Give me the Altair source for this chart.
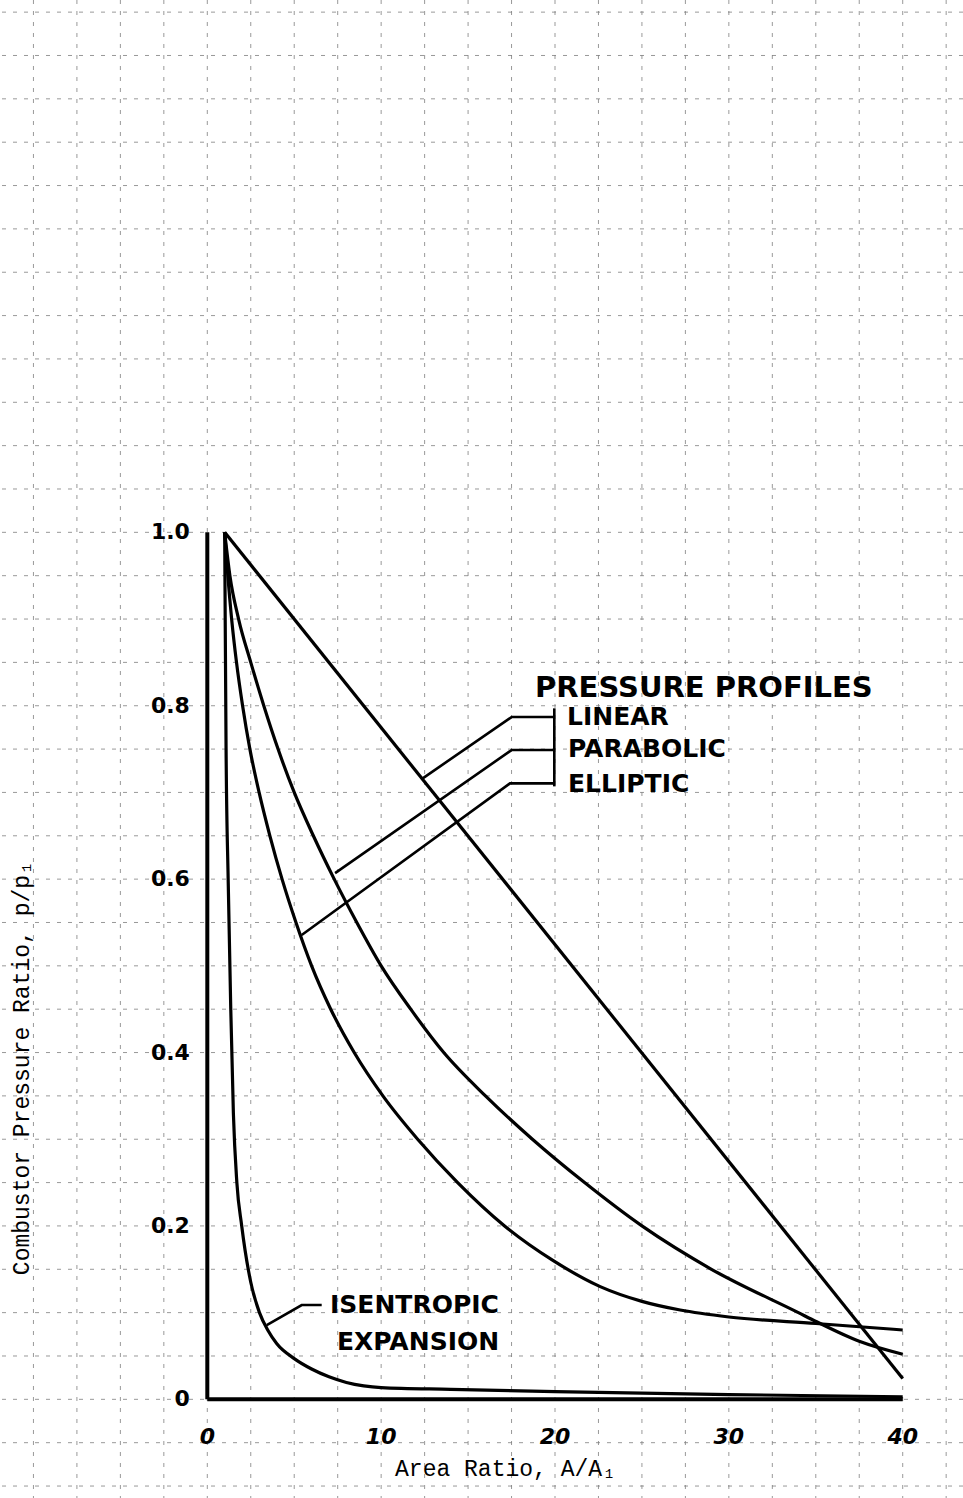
import altair as alt
import pandas as pd

# ---------------- data ----------------
linear_x = [1.0, 40.0]
linear_y = [1.0, 0.024]

parabolic_x = [1.0, 1.3, 1.8, 2.5, 3.25, 4.07, 5.0, 6.1, 7.3, 8.6, 10.0, 11.7, 13.6,
               16.0, 18.7, 21.7, 25.0, 29.0, 34.0, 35.05, 37.5, 40.0]
parabolic_y = [1.0, 0.95, 0.9, 0.85, 0.8, 0.75, 0.7, 0.65, 0.6, 0.55, 0.5, 0.45, 0.4,
               0.35, 0.3, 0.25, 0.2, 0.15, 0.1, 0.0895, 0.067, 0.052]

elliptic_x = [1.0, 1.18, 1.4, 1.68, 2.03, 2.45, 2.98, 3.6, 4.3, 5.1, 6.0, 7.1, 8.45,
              10.1, 12.1, 14.4, 17.1, 19.9, 22.6, 25.0, 27.2, 30.0, 35.0, 40.0]
elliptic_y = [1.0, 0.95, 0.9, 0.85, 0.8, 0.75, 0.7, 0.65, 0.6, 0.55, 0.5, 0.45, 0.4,
              0.35, 0.3, 0.25, 0.2, 0.16, 0.13, 0.113, 0.103, 0.095, 0.0875, 0.080]

isentropic_x = [1.0, 1.03, 1.08, 1.2, 1.35, 1.5, 1.7, 1.98, 2.5, 3.0, 3.5, 4.0, 5.0,
                6.0, 7.0, 8.0, 9.0, 10.0, 14.0, 20.0, 30.0, 40.0]
isentropic_y = [1.0, 0.9, 0.75, 0.6, 0.45, 0.33, 0.25, 0.2, 0.135, 0.1, 0.079, 0.064,
                0.047, 0.035, 0.026, 0.0195, 0.0155, 0.0135, 0.0115, 0.009, 0.0055, 0.003]

# leader lines from the hand-lettered labels to the curves
lead_linear_x = [12.37, 17.51, 19.96]
lead_linear_y = [0.716, 0.787, 0.787]
lead_parabolic_x = [7.35, 17.51, 19.96]
lead_parabolic_y = [0.607, 0.749, 0.749]
lead_elliptic_x = [5.43, 17.41, 19.96]
lead_elliptic_y = [0.5355, 0.7105, 0.7105]
lead_bracket_x = [19.96, 19.96]
lead_bracket_y = [0.797, 0.707]
lead_isen_x = [3.42, 5.43, 6.58]
lead_isen_y = [0.0857, 0.1088, 0.1088]

x_tick_vals = [0, 10, 20, 30, 40]
x_tick_text = ["0", "10", "20", "30", "40"]
y_tick_vals = [0.0, 0.2, 0.4, 0.6, 0.8, 1.0]
y_tick_text = ["0", "0.2", "0.4", "0.6", "0.8", "1.0"]

# graph-paper rulings
grid_x = [-10, -7.5, -5, -2.5, 0, 2.5, 5, 7.5, 10, 12.5, 15, 17.5, 20, 22.5, 25,
          27.5, 30, 32.5, 35, 37.5, 40, 42.5]
grid_y = [-0.1, -0.05, 0.0, 0.05, 0.1, 0.15, 0.2, 0.25, 0.3, 0.35, 0.4, 0.45, 0.5,
          0.55, 0.6, 0.65, 0.7, 0.75, 0.8, 0.85, 0.9, 0.95, 1.0, 1.05, 1.1, 1.15,
          1.2, 1.25, 1.3, 1.35, 1.4, 1.45, 1.5, 1.55, 1.6]

curve_labels = ["PRESSURE PROFILES", "LINEAR", "PARABOLIC", "ELLIPTIC",
                "ISENTROPIC", "EXPANSION"]
curve_label_x = [18.85, 20.69, 20.75, 20.75, 7.06, 7.46]
curve_label_y = [0.8205, 0.7873, 0.750, 0.7097, 0.1088, 0.0664]
curve_label_size = [29, 25, 25, 25, 25, 25]

x_title = "Area Ratio, A/A\u2081"
y_title = "Combustor Pressure Ratio, p/p\u2081"

# ---------------- build tables ----------------
def series(name, xs, ys):
    return pd.DataFrame({"s": name, "i": list(range(len(xs))), "x": xs, "y": ys})

curves = pd.concat([
    series("Linear", linear_x, linear_y),
    series("Parabolic", parabolic_x, parabolic_y),
    series("Elliptic", elliptic_x, elliptic_y),
    series("Isentropic", isentropic_x, isentropic_y),
])
leaders = pd.concat([
    series("l1", lead_linear_x, lead_linear_y),
    series("l2", lead_parabolic_x, lead_parabolic_y),
    series("l3", lead_elliptic_x, lead_elliptic_y),
    series("l4", lead_bracket_x, lead_bracket_y),
    series("l5", lead_isen_x, lead_isen_y),
])

XDOM = [-11.924, 43.468]
YDOM = [-0.1138, 1.614]
xs = alt.Scale(domain=XDOM, nice=False, zero=False)
ys = alt.Scale(domain=YDOM, nice=False, zero=False)
X = lambda f="x": alt.X(f"{f}:Q", scale=xs, axis=None)
Y = lambda f="y": alt.Y(f"{f}:Q", scale=ys, axis=None)

grid_v = alt.Chart(pd.DataFrame({"x": grid_x})).mark_rule(
    color="#808080", strokeWidth=1, strokeDash=[4, 7], opacity=0.8
).encode(x=X())
grid_h = alt.Chart(pd.DataFrame({"y": grid_y})).mark_rule(
    color="#808080", strokeWidth=1, strokeDash=[4, 7], opacity=0.8
).encode(y=Y())

axis_y = alt.Chart(pd.DataFrame({"x": [0], "y": [0.0], "y2": [1.0]})).mark_rule(
    color="black", strokeWidth=4
).encode(x=X(), y=Y(), y2="y2:Q")
axis_x = alt.Chart(pd.DataFrame({"x": [0], "x2": [40], "y": [0.0]})).mark_rule(
    color="black", strokeWidth=4
).encode(x=X(), x2="x2:Q", y=Y())

lines = alt.Chart(curves).mark_line(
    color="black", strokeWidth=3.2, interpolate="monotone"
).encode(x=X(), y=Y(), detail="s:N", order="i:Q")

lead = alt.Chart(leaders).mark_line(
    color="black", strokeWidth=2.6
).encode(x=X(), y=Y(), detail="s:N", order="i:Q")

xt = alt.Chart(pd.DataFrame({"x": x_tick_vals, "t": x_tick_text, "y": [-0.0435] * 5})).mark_text(
    font="DejaVu Sans", fontSize=22, color="black", align="center", baseline="middle",
    fontStyle="italic", fontWeight="bold"
).encode(x=X(), y=Y(), text="t:N")

yt = alt.Chart(pd.DataFrame({"y": y_tick_vals, "t": y_tick_text, "x": [-1.0] * 6})).mark_text(
    font="DejaVu Sans", fontSize=22, color="black", align="right", baseline="middle",
    fontWeight="bold"
).encode(x=X(), y=Y(), text="t:N")

lab = alt.Chart(pd.DataFrame({"t": curve_labels, "x": curve_label_x, "y": curve_label_y,
                              "sz": curve_label_size})).mark_text(
    font="DejaVu Sans", color="black", align="left", baseline="middle", fontWeight="bold"
).encode(x=X(), y=Y(), text="t:N", size=alt.Size("sz:Q", scale=None, legend=None))

xtitle = alt.Chart(pd.DataFrame({"t": [x_title], "x": [10.8], "y": [-0.0804]})).mark_text(
    font="Liberation Mono", fontSize=23, color="black", align="left", baseline="middle"
).encode(x=X(), y=Y(), text="t:N")

ytitle = alt.Chart(pd.DataFrame({"t": [y_title], "x": [-10.66], "y": [0.382]})).mark_text(
    font="Liberation Mono", fontSize=23, color="black", align="center", baseline="middle",
    angle=270
).encode(x=X(), y=Y(), text="t:N")

chart = alt.layer(
    grid_v, grid_h, axis_y, axis_x, lines, lead, xt, yt, lab, xtitle, ytitle
).properties(
    width=963, height=1498, padding=0, background="white",
    autosize=alt.AutoSizeParams(type="none")
).configure_view(stroke=None)

chart.save("out.html", embed_options={"renderer": "svg", "actions": False})
